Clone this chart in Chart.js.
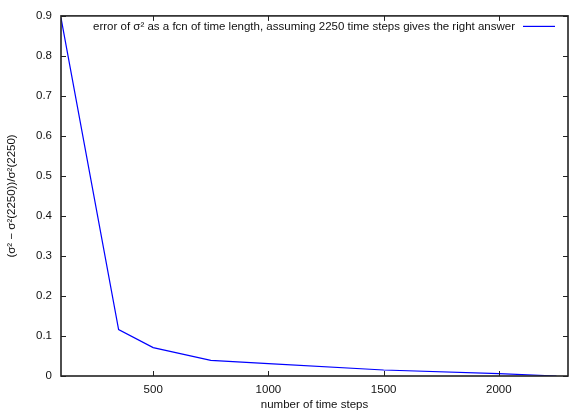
<!DOCTYPE html>
<html>
<head>
<meta charset="utf-8">
<script src="https://cdn.jsdelivr.net/npm/chart.js@4/dist/chart.umd.min.js"></script>
<style>
html,body{margin:0;padding:0;background:#fff;}
canvas{display:block;}
</style>
</head>
<body>
<canvas id="c" width="571" height="412"></canvas>
<script>
// Data
const timeSteps = [100, 350, 500, 750, 1000, 1500, 2000, 2250];
const relError  = [0.895, 0.116, 0.071, 0.039, 0.031, 0.015, 0.006, 0.0];
const xTickValues = [500, 1000, 1500, 2000];
const yTickValues = [0, 0.1, 0.2, 0.3, 0.4, 0.5, 0.6, 0.7, 0.8, 0.9];
const seriesLabel = 'error of σ² as a fcn of time length, assuming 2250 time steps gives the right answer';
const xTitle = 'number of time steps';
const yTitle = '(σ² − σ²(2250))/σ²(2250)';

const FONT = 'Liberation Sans, Arial, Helvetica, sans-serif';
const FS = 11.5;
const TEXT = '#111';

const points = timeSteps.map((x, i) => ({x: x, y: relError[i]}));

const gnuplotFrame = {
  id: 'gnuplotFrame',
  afterDraw(chart) {
    const ctx = chart.ctx;
    const a = chart.chartArea;
    const xs = chart.scales.x, ys = chart.scales.y;
    const L = 5;
    ctx.save();
    ctx.strokeStyle = '#222';
    ctx.lineWidth = 1;
    ctx.beginPath();
    xTickValues.forEach(v => {
      const px = Math.round(xs.getPixelForValue(v)) + 0.5;
      ctx.moveTo(px, a.bottom); ctx.lineTo(px, a.bottom - L);
      ctx.moveTo(px, a.top); ctx.lineTo(px, a.top + L);
    });
    yTickValues.forEach(v => {
      const py = Math.round(ys.getPixelForValue(v)) + 0.5;
      ctx.moveTo(a.left, py); ctx.lineTo(a.left + L, py);
      ctx.moveTo(a.right, py); ctx.lineTo(a.right - L, py);
    });
    ctx.stroke();
    ctx.lineWidth = 1.6;
    ctx.strokeStyle = '#222';
    ctx.strokeRect(a.left, a.top, a.right - a.left, a.bottom - a.top);

    // key (legend) in top-right corner, gnuplot style
    const ds = chart.data.datasets[0];
    ctx.font = FS + 'px ' + FONT;
    ctx.fillStyle = TEXT;
    ctx.textAlign = 'right';
    ctx.textBaseline = 'middle';
    const keyY = a.top + 10.5;
    const lineEnd = a.right - 13;
    const lineStart = lineEnd - 32;
    ctx.fillText(ds.label, lineStart - 8, keyY);
    ctx.strokeStyle = ds.borderColor;
    ctx.lineWidth = 1.2;
    ctx.beginPath();
    ctx.moveTo(lineStart, keyY);
    ctx.lineTo(lineEnd, keyY);
    ctx.stroke();
    ctx.restore();
  }
};

new Chart(document.getElementById('c'), {
  type: 'line',
  data: {
    datasets: [{
      label: seriesLabel,
      data: points,
      borderColor: 'rgb(0,0,255)',
      borderWidth: 1.2,
      pointRadius: 0,
      tension: 0,
      fill: false
    }]
  },
  options: {
    responsive: false,
    animation: false,
    devicePixelRatio: 1,
    layout: {padding: {top: 15, right: 3, left: 0, bottom: 0}},
    plugins: {legend: {display: false}, title: {display: false}, tooltip: {enabled: false}},
    scales: {
      x: {
        type: 'linear',
        min: 100, max: 2300,
        afterBuildTicks: s => { s.ticks = xTickValues.map(v => ({value: v})); },
        afterFit: s => { s.height = 36; },
        grid: {display: false, drawTicks: false},
        border: {display: false},
        ticks: {padding: 7, color: TEXT, font: {family: FONT, size: FS}, maxRotation: 0,
          callback: v => String(v)},
        title: {display: true, text: xTitle, color: TEXT, font: {family: FONT, size: FS}, padding: {top: 0, bottom: 0}}
      },
      y: {
        min: 0, max: 0.9,
        afterBuildTicks: s => { s.ticks = yTickValues.map(v => ({value: v})); },
        afterFit: s => { s.width = 61; },
        grid: {display: false, drawTicks: false},
        border: {display: false},
        ticks: {padding: 9, color: TEXT, font: {family: FONT, size: FS},
          callback: v => v === 0 ? '0' : v.toFixed(1)},
        title: {display: true, text: yTitle, color: TEXT, font: {family: FONT, size: FS}, padding: {top: 5, bottom: 0}}
      }
    }
  },
  plugins: [gnuplotFrame]
});
</script>
</body>
</html>
